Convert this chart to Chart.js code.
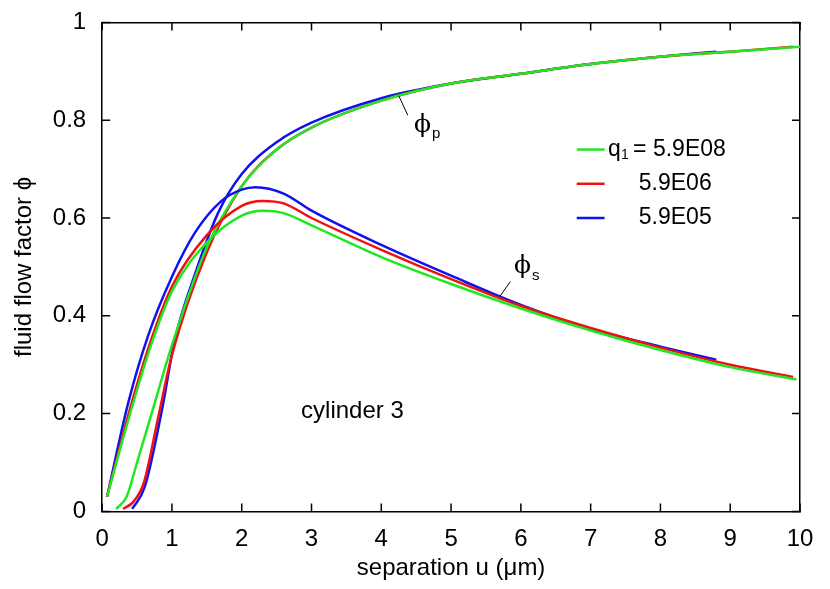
<!DOCTYPE html>
<html>
<head>
<meta charset="utf-8">
<script src="https://cdn.jsdelivr.net/npm/chart.js@4.4.0/dist/chart.umd.min.js"></script>
<style>
  body { margin: 0; background: #fff; }
  #wrap { width: 830px; height: 589px; }
</style>
</head>
<body>
<div id="wrap"><canvas id="c"></canvas></div>
<script>
// phi_s curves (x = separation, y = flow factor)
const sGreenX = [0.07, 0.4, 0.7, 1.0, 1.5, 2.0, 2.3, 2.6, 3, 4, 5, 6, 7, 8, 9, 9.95];
const sGreenY = [0.03, 0.2, 0.34, 0.45, 0.55, 0.605, 0.615, 0.61, 0.585, 0.52, 0.465, 0.415, 0.37, 0.33, 0.295, 0.27];
const sRedX = [0.07, 0.4, 0.7, 1.0, 1.5, 2.0, 2.3, 2.6, 3, 4, 5, 6, 7, 8, 9, 9.9];
const sRedY = [0.03, 0.21, 0.35, 0.46, 0.565, 0.625, 0.635, 0.63, 0.6, 0.535, 0.475, 0.42, 0.375, 0.335, 0.3, 0.275];
const sBlueX = [0.07, 0.37, 0.66, 1.0, 1.33, 1.71, 2.0, 2.2, 2.6, 3, 4, 5, 6, 7, 8, 8.8];
const sBlueY = [0.03, 0.22, 0.36, 0.48, 0.57, 0.635, 0.658, 0.663, 0.65, 0.615, 0.545, 0.482, 0.422, 0.373, 0.337, 0.31];

// phi_p curves
const pGreenX = [0.2, 0.35, 0.5, 0.75, 1.0, 1.5, 2.0, 2.5, 3, 4, 5, 6, 7, 8, 9, 10];
const pGreenY = [0.005, 0.03, 0.1, 0.22, 0.34, 0.54, 0.665, 0.74, 0.785, 0.84, 0.875, 0.895, 0.915, 0.93, 0.94, 0.95];
const pRedX = [0.3, 0.45, 0.6, 0.8, 1.0, 1.5, 2.0, 2.5, 3, 4, 5, 6, 7, 8, 9, 9.9];
const pRedY = [0.005, 0.02, 0.06, 0.19, 0.32, 0.53, 0.665, 0.74, 0.785, 0.84, 0.875, 0.895, 0.915, 0.93, 0.94, 0.95];
const pBlueX = [0.43, 0.61, 0.86, 1.04, 1.33, 1.66, 2.0, 2.5, 3, 4, 5, 6, 7, 8, 8.8];
const pBlueY = [0.005, 0.05, 0.21, 0.35, 0.485, 0.61, 0.69, 0.755, 0.795, 0.845, 0.875, 0.895, 0.915, 0.93, 0.94];

const xTicks = [0, 1, 2, 3, 4, 5, 6, 7, 8, 9, 10];
const yTicks = [0, 0.2, 0.4, 0.6, 0.8, 1];

const GREEN = '#22e622', RED = '#ee1111', BLUE = '#1111ee';
const FONT = '"Liberation Sans", Arial, sans-serif';

function pts(xs, ys) { return xs.map((x, i) => ({ x: x, y: ys[i] })); }
function line(xs, ys, color) {
    return { data: pts(xs, ys), borderColor: color, borderWidth: 2.5, pointRadius: 0,
             cubicInterpolationMode: 'monotone', fill: false, showLine: true };
}

// ticks inside the frame, legend and curve labels
const extras = {
    id: 'extras',
    afterDraw(chart) {
        const ctx = chart.ctx, a = chart.chartArea;
        const xs = chart.scales.x, ys = chart.scales.y;
        ctx.save();
        ctx.strokeStyle = '#000';
        ctx.lineWidth = 1.5;
        xTicks.forEach(t => {
            const p = xs.getPixelForValue(t);
            ctx.beginPath(); ctx.moveTo(p, a.bottom); ctx.lineTo(p, a.bottom - 8);
            ctx.moveTo(p, a.top); ctx.lineTo(p, a.top + 8); ctx.stroke();
        });
        yTicks.forEach(t => {
            const p = ys.getPixelForValue(t);
            ctx.beginPath(); ctx.moveTo(a.left, p); ctx.lineTo(a.left + 8, p);
            ctx.moveTo(a.right, p); ctx.lineTo(a.right - 8, p); ctx.stroke();
        });

        // legend
        const colors = [GREEN, RED, BLUE];
        const ly = [0.74, 0.67, 0.6];
        ctx.textBaseline = 'middle';
        ctx.fillStyle = '#000';
        colors.forEach((c, i) => {
            const y = ys.getPixelForValue(ly[i]);
            ctx.strokeStyle = c; ctx.lineWidth = 2.5;
            ctx.beginPath(); ctx.moveTo(xs.getPixelForValue(6.8), y); ctx.lineTo(xs.getPixelForValue(7.2), y); ctx.stroke();
        });
        const y0 = ys.getPixelForValue(ly[0]);
        const x0 = xs.getPixelForValue(7.25);
        ctx.font = '23px ' + FONT;
        ctx.fillText('q', x0, y0);
        ctx.font = '14px ' + FONT;
        ctx.fillText('1', x0 + 13, y0 + 6);
        ctx.font = '23px ' + FONT;
        ctx.fillText('= 5.9E08', x0 + 25, y0);
        ctx.fillText('5.9E06', xs.getPixelForValue(7.69), ys.getPixelForValue(ly[1]));
        ctx.fillText('5.9E05', xs.getPixelForValue(7.69), ys.getPixelForValue(ly[2]));

        // curve labels
        ctx.strokeStyle = '#000'; ctx.lineWidth = 1;
        ctx.beginPath();
        ctx.moveTo(xs.getPixelForValue(4.25), ys.getPixelForValue(0.85));
        ctx.lineTo(xs.getPixelForValue(4.38), ys.getPixelForValue(0.81));
        ctx.moveTo(xs.getPixelForValue(5.7), ys.getPixelForValue(0.44));
        ctx.lineTo(xs.getPixelForValue(5.85), ys.getPixelForValue(0.47));
        ctx.stroke();
        ctx.font = '25px "DejaVu Serif", serif';
        ctx.fillText('\u03d5', xs.getPixelForValue(4.47), ys.getPixelForValue(0.79));
        ctx.fillText('\u03d5', xs.getPixelForValue(5.9), ys.getPixelForValue(0.5));
        ctx.font = '15px ' + FONT;
        ctx.fillText('p', xs.getPixelForValue(4.47) + 18, ys.getPixelForValue(0.79) + 9);
        ctx.fillText('s', xs.getPixelForValue(5.9) + 18, ys.getPixelForValue(0.5) + 9);
        ctx.font = '24px ' + FONT;
        ctx.fillText('cylinder 3', xs.getPixelForValue(2.85), ys.getPixelForValue(0.205));
        ctx.restore();
    }
};

new Chart(document.getElementById('c'), {
    type: 'scatter',
    data: {
        datasets: [
            line(sGreenX, sGreenY, GREEN),
            line(sRedX, sRedY, RED),
            line(sBlueX, sBlueY, BLUE),
            line(pGreenX, pGreenY, GREEN),
            line(pRedX, pRedY, RED),
            line(pBlueX, pBlueY, BLUE)
        ]
    },
    options: {
        responsive: true,
        maintainAspectRatio: false,
        animation: false,
        layout: { padding: { top: 11, right: 22, left: 6, bottom: 0 } },
        plugins: { legend: { display: false }, tooltip: { enabled: false } },
        scales: {
            x: {
                type: 'linear', min: 0, max: 10,
                afterBuildTicks: s => { s.ticks = xTicks.map(v => ({ value: v })); },
                grid: { display: false },
                border: { color: '#000', width: 1.5 },
                ticks: { color: '#000', font: { size: 24, family: FONT }, maxRotation: 0, padding: 6, callback: v => String(v) },
                title: { display: true, text: 'separation u (\u03bcm)', color: '#000', font: { size: 24, family: FONT }, padding: { top: -6, bottom: 6 } }
            },
            y: {
                min: 0, max: 1,
                afterBuildTicks: s => { s.ticks = yTicks.map(v => ({ value: v })); },
                grid: { display: false },
                border: { color: '#000', width: 1.5 },
                ticks: { color: '#000', font: { size: 24, family: FONT }, padding: 8, callback: v => String(v) },
                title: { display: true, text: 'fluid flow factor \u03d5', color: '#000', font: { size: 24, family: FONT }, padding: { bottom: 6 } }
            },
            x2: { position: 'top', type: 'linear', min: 0, max: 10, grid: { display: false }, ticks: { display: false }, border: { color: '#000', width: 1.5 } },
            y2: { position: 'right', min: 0, max: 1, grid: { display: false }, ticks: { display: false }, border: { color: '#000', width: 1.5 } }
        }
    },
    plugins: [extras]
});
</script>
</body>
</html>
